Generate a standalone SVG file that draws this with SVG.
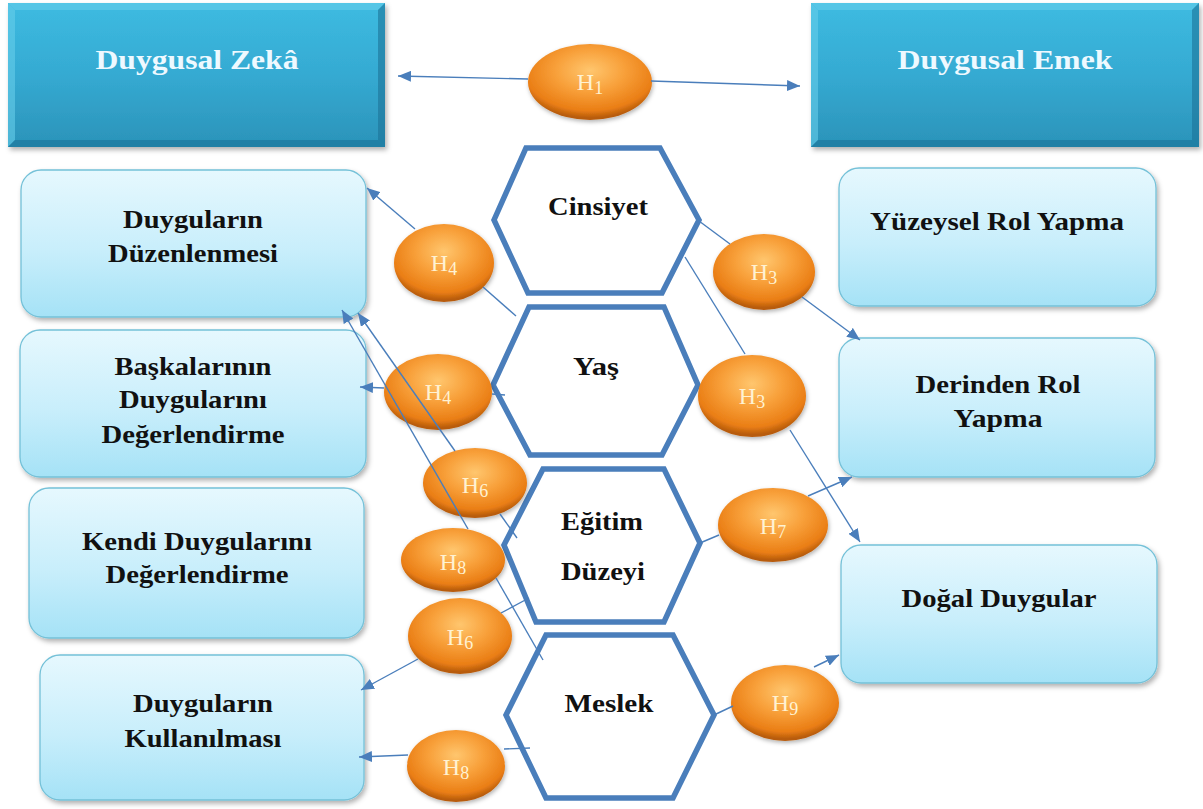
<svg xmlns="http://www.w3.org/2000/svg" width="1203" height="809" viewBox="0 0 1203 809">
<defs>
<linearGradient id="teal" x1="0" y1="0" x2="0" y2="1">
<stop offset="0" stop-color="#3dbbe1"/><stop offset="0.5" stop-color="#35aad2"/><stop offset="1" stop-color="#2b93b9"/>
</linearGradient>
<linearGradient id="light" x1="0" y1="0" x2="0" y2="1">
<stop offset="0" stop-color="#e6f8fe"/><stop offset="0.55" stop-color="#c8eefb"/><stop offset="1" stop-color="#a5e2f6"/>
</linearGradient>
<radialGradient id="orange" cx="0.5" cy="0.35" r="0.62">
<stop offset="0" stop-color="#ffc66e"/><stop offset="0.45" stop-color="#f8a03a"/><stop offset="0.85" stop-color="#ea7e15"/><stop offset="1" stop-color="#b85c0c"/>
</radialGradient>
<filter id="sh" x="-10%" y="-10%" width="125%" height="130%">
<feDropShadow dx="2" dy="3" stdDeviation="2.5" flood-color="#000" flood-opacity="0.3"/>
</filter>
<filter id="shs" x="-10%" y="-10%" width="125%" height="130%">
<feDropShadow dx="1" dy="2" stdDeviation="2" flood-color="#000" flood-opacity="0.3"/>
</filter>
<marker id="arr" markerUnits="userSpaceOnUse" markerWidth="13" markerHeight="11" refX="13" refY="5.5" orient="auto">
<path d="M0,0 L13,5.5 L0,11 z" fill="#4a7ebb"/>
</marker>
<style>
.hdr{fill:url(#teal);filter:url(#sh)}
.bl{fill:#66cdea;opacity:0.6}
.bd{fill:#1c7397;opacity:0.6}
.ht{font-family:"Liberation Serif",serif;font-weight:bold;font-size:28px;fill:#eef9ff;text-anchor:middle}
.box{fill:url(#light);stroke:#74c1d8;stroke-width:1.3;filter:url(#sh)}
.bt{font-family:"Liberation Serif",serif;font-weight:bold;font-size:26px;fill:#111;text-anchor:middle}
.hex{fill:#fff;stroke:#4a7ebb;stroke-width:5.5;stroke-linejoin:miter}
.ell{fill:url(#orange);filter:url(#shs)}
.hl{font-family:"Liberation Serif",serif;font-size:24px;fill:#fff2d2;text-anchor:middle}
.sub{font-size:18px}
.cn{stroke:#4a7ebb;stroke-width:1.4;fill:none}
.ar{marker-end:url(#arr)}
</style>
</defs>
<rect width="1203" height="809" fill="#fff"/>

<g id="duygusal-zeka">
<rect class="hdr" x="8" y="3" width="377" height="144"/>
<polygon class="bl" points="8,3 385,3 378,10 15,10"/>
<polygon class="bl" points="8,3 15,10 15,140 8,147"/>
<polygon class="bd" points="385,3 385,147 378,140 378,10"/>
<polygon class="bd" points="8,147 385,147 378,140 15,140"/>
<text class="ht" x="197" y="69" textLength="203" lengthAdjust="spacingAndGlyphs">Duygusal Zekâ</text>
</g>
<g id="duygusal-emek">
<rect class="hdr" x="811" y="3" width="388" height="144"/>
<polygon class="bl" points="811,3 1199,3 1192,10 818,10"/>
<polygon class="bl" points="811,3 818,10 818,140 811,147"/>
<polygon class="bd" points="1199,3 1199,147 1192,140 1192,10"/>
<polygon class="bd" points="811,147 1199,147 1192,140 818,140"/>
<text class="ht" x="1005" y="69" textLength="215" lengthAdjust="spacingAndGlyphs">Duygusal Emek</text>
</g>

<g id="duygularin-duzenlenmesi">
<rect class="box" x="21" y="170" width="345" height="147" rx="20"/>
<text class="bt" x="193" y="228" textLength="140" lengthAdjust="spacingAndGlyphs">Duyguların</text>
<text class="bt" x="193" y="262" textLength="170" lengthAdjust="spacingAndGlyphs">Düzenlenmesi</text>
</g>
<g id="baskalarinin">
<rect class="box" x="20" y="330" width="346" height="147" rx="20"/>
<text class="bt" x="193" y="375" textLength="157" lengthAdjust="spacingAndGlyphs">Başkalarının</text>
<text class="bt" x="193" y="408" textLength="148" lengthAdjust="spacingAndGlyphs">Duygularını</text>
<text class="bt" x="193" y="443" textLength="183" lengthAdjust="spacingAndGlyphs">Değerlendirme</text>
</g>
<g id="kendi">
<rect class="box" x="29" y="488" width="335" height="150" rx="20"/>
<text class="bt" x="197" y="550" textLength="230" lengthAdjust="spacingAndGlyphs">Kendi Duygularını</text>
<text class="bt" x="197" y="583" textLength="183" lengthAdjust="spacingAndGlyphs">Değerlendirme</text>
</g>
<g id="kullanilmasi">
<rect class="box" x="40" y="655" width="324" height="145" rx="20"/>
<text class="bt" x="203" y="712" textLength="140" lengthAdjust="spacingAndGlyphs">Duyguların</text>
<text class="bt" x="203" y="747" textLength="157" lengthAdjust="spacingAndGlyphs">Kullanılması</text>
</g>

<g id="yuzeysel">
<rect class="box" x="839" y="168" width="317" height="138" rx="20"/>
<text class="bt" x="997" y="230" textLength="254" lengthAdjust="spacingAndGlyphs">Yüzeysel Rol Yapma</text>
</g>
<g id="derinden">
<rect class="box" x="839" y="338" width="316" height="139" rx="20"/>
<text class="bt" x="998" y="393" textLength="165" lengthAdjust="spacingAndGlyphs">Derinden Rol</text>
<text class="bt" x="998" y="427" textLength="89" lengthAdjust="spacingAndGlyphs">Yapma</text>
</g>
<g id="dogal">
<rect class="box" x="841" y="545" width="316" height="138" rx="20"/>
<text class="bt" x="999" y="607" textLength="195" lengthAdjust="spacingAndGlyphs">Doğal Duygular</text>
</g>

<g id="cinsiyet">
<polygon class="hex" points="494,220 526,148 660,148 699,220 662,293 528,293"/>
<text class="bt" x="598" y="215" textLength="100" lengthAdjust="spacingAndGlyphs">Cinsiyet</text>
</g>
<g id="yas">
<polygon class="hex" points="493,385 529,307 664,307 698,385 662,455 530,455"/>
<text class="bt" x="596" y="375" textLength="46" lengthAdjust="spacingAndGlyphs">Yaş</text>
</g>
<g id="egitim">
<polygon class="hex" points="504,545 543,469 664,469 700,543 664,622 536,622"/>
<text class="bt" x="602" y="530" textLength="82" lengthAdjust="spacingAndGlyphs">Eğitim</text>
<text class="bt" x="603" y="580" textLength="84" lengthAdjust="spacingAndGlyphs">Düzeyi</text>
</g>
<g id="meslek">
<polygon class="hex" points="506,715 546,635 673,635 714,715 673,798 546,798"/>
<text class="bt" x="609" y="712" textLength="89" lengthAdjust="spacingAndGlyphs">Meslek</text>
</g>

<g id="h1"><ellipse class="ell" cx="590" cy="82" rx="62" ry="38"/><text class="hl" x="590" y="90">H<tspan class="sub" dy="4">1</tspan></text></g>
<g id="h4a"><ellipse class="ell" cx="444" cy="263" rx="50" ry="39"/><text class="hl" x="444" y="271">H<tspan class="sub" dy="4">4</tspan></text></g>
<g id="h3a"><ellipse class="ell" cx="764" cy="272" rx="51" ry="38"/><text class="hl" x="764" y="280">H<tspan class="sub" dy="4">3</tspan></text></g>
<g id="h4b"><ellipse class="ell" cx="438" cy="392" rx="54" ry="38"/><text class="hl" x="438" y="400">H<tspan class="sub" dy="4">4</tspan></text></g>
<g id="h3b"><ellipse class="ell" cx="752" cy="396" rx="54" ry="41"/><text class="hl" x="752" y="404">H<tspan class="sub" dy="4">3</tspan></text></g>
<g id="h6a"><ellipse class="ell" cx="475" cy="483" rx="52" ry="35"/><text class="hl" x="475" y="493">H<tspan class="sub" dy="4">6</tspan></text></g>
<g id="h7"><ellipse class="ell" cx="773" cy="525" rx="55" ry="37"/><text class="hl" x="773" y="534">H<tspan class="sub" dy="4">7</tspan></text></g>
<g id="h8a"><ellipse class="ell" cx="453" cy="560" rx="52" ry="32"/><text class="hl" x="453" y="570">H<tspan class="sub" dy="4">8</tspan></text></g>
<g id="h6b"><ellipse class="ell" cx="460" cy="636" rx="52" ry="38"/><text class="hl" x="460" y="645">H<tspan class="sub" dy="4">6</tspan></text></g>
<g id="h9"><ellipse class="ell" cx="785" cy="703" rx="54" ry="38"/><text class="hl" x="785" y="711">H<tspan class="sub" dy="4">9</tspan></text></g>
<g id="h8b"><ellipse class="ell" cx="456" cy="766" rx="49" ry="36"/><text class="hl" x="456" y="775">H<tspan class="sub" dy="4">8</tspan></text></g>

<g id="connectors">
<line class="cn ar" x1="528" y1="79" x2="398" y2="76"/>
<line class="cn ar" x1="651" y1="81" x2="800" y2="86"/>
<line class="cn" x1="516" y1="316" x2="483" y2="287"/>
<line class="cn ar" x1="415" y1="229" x2="367" y2="188"/>
<line class="cn" x1="699" y1="221" x2="730" y2="244"/>
<line class="cn ar" x1="802" y1="297" x2="860" y2="340"/>
<line class="cn" x1="685" y1="257" x2="745" y2="354"/>
<line class="cn ar" x1="790" y1="430" x2="860" y2="542"/>
<line class="cn" x1="700" y1="543" x2="719" y2="535"/>
<line class="cn ar" x1="808" y1="496" x2="852" y2="477"/>
<line class="cn" x1="714" y1="715" x2="733" y2="706"/>
<line class="cn ar" x1="814" y1="667" x2="839" y2="655"/>
<line class="cn" x1="505" y1="395" x2="492" y2="394"/>
<line class="cn ar" x1="384" y1="388" x2="360" y2="387"/>
<line class="cn" x1="517" y1="538" x2="500" y2="514"/>
<line class="cn ar" x1="455" y1="451" x2="358" y2="313"/>
<line class="cn" x1="543" y1="660" x2="496" y2="578"/>
<line class="cn ar" x1="468" y1="529" x2="342" y2="310"/>
<line class="cn" x1="529" y1="598" x2="501" y2="613"/>
<line class="cn ar" x1="418" y1="659" x2="361" y2="690"/>
<line class="cn" x1="530" y1="748" x2="504" y2="749"/>
<line class="cn ar" x1="408" y1="755" x2="359" y2="757"/>
</g>
</svg>
